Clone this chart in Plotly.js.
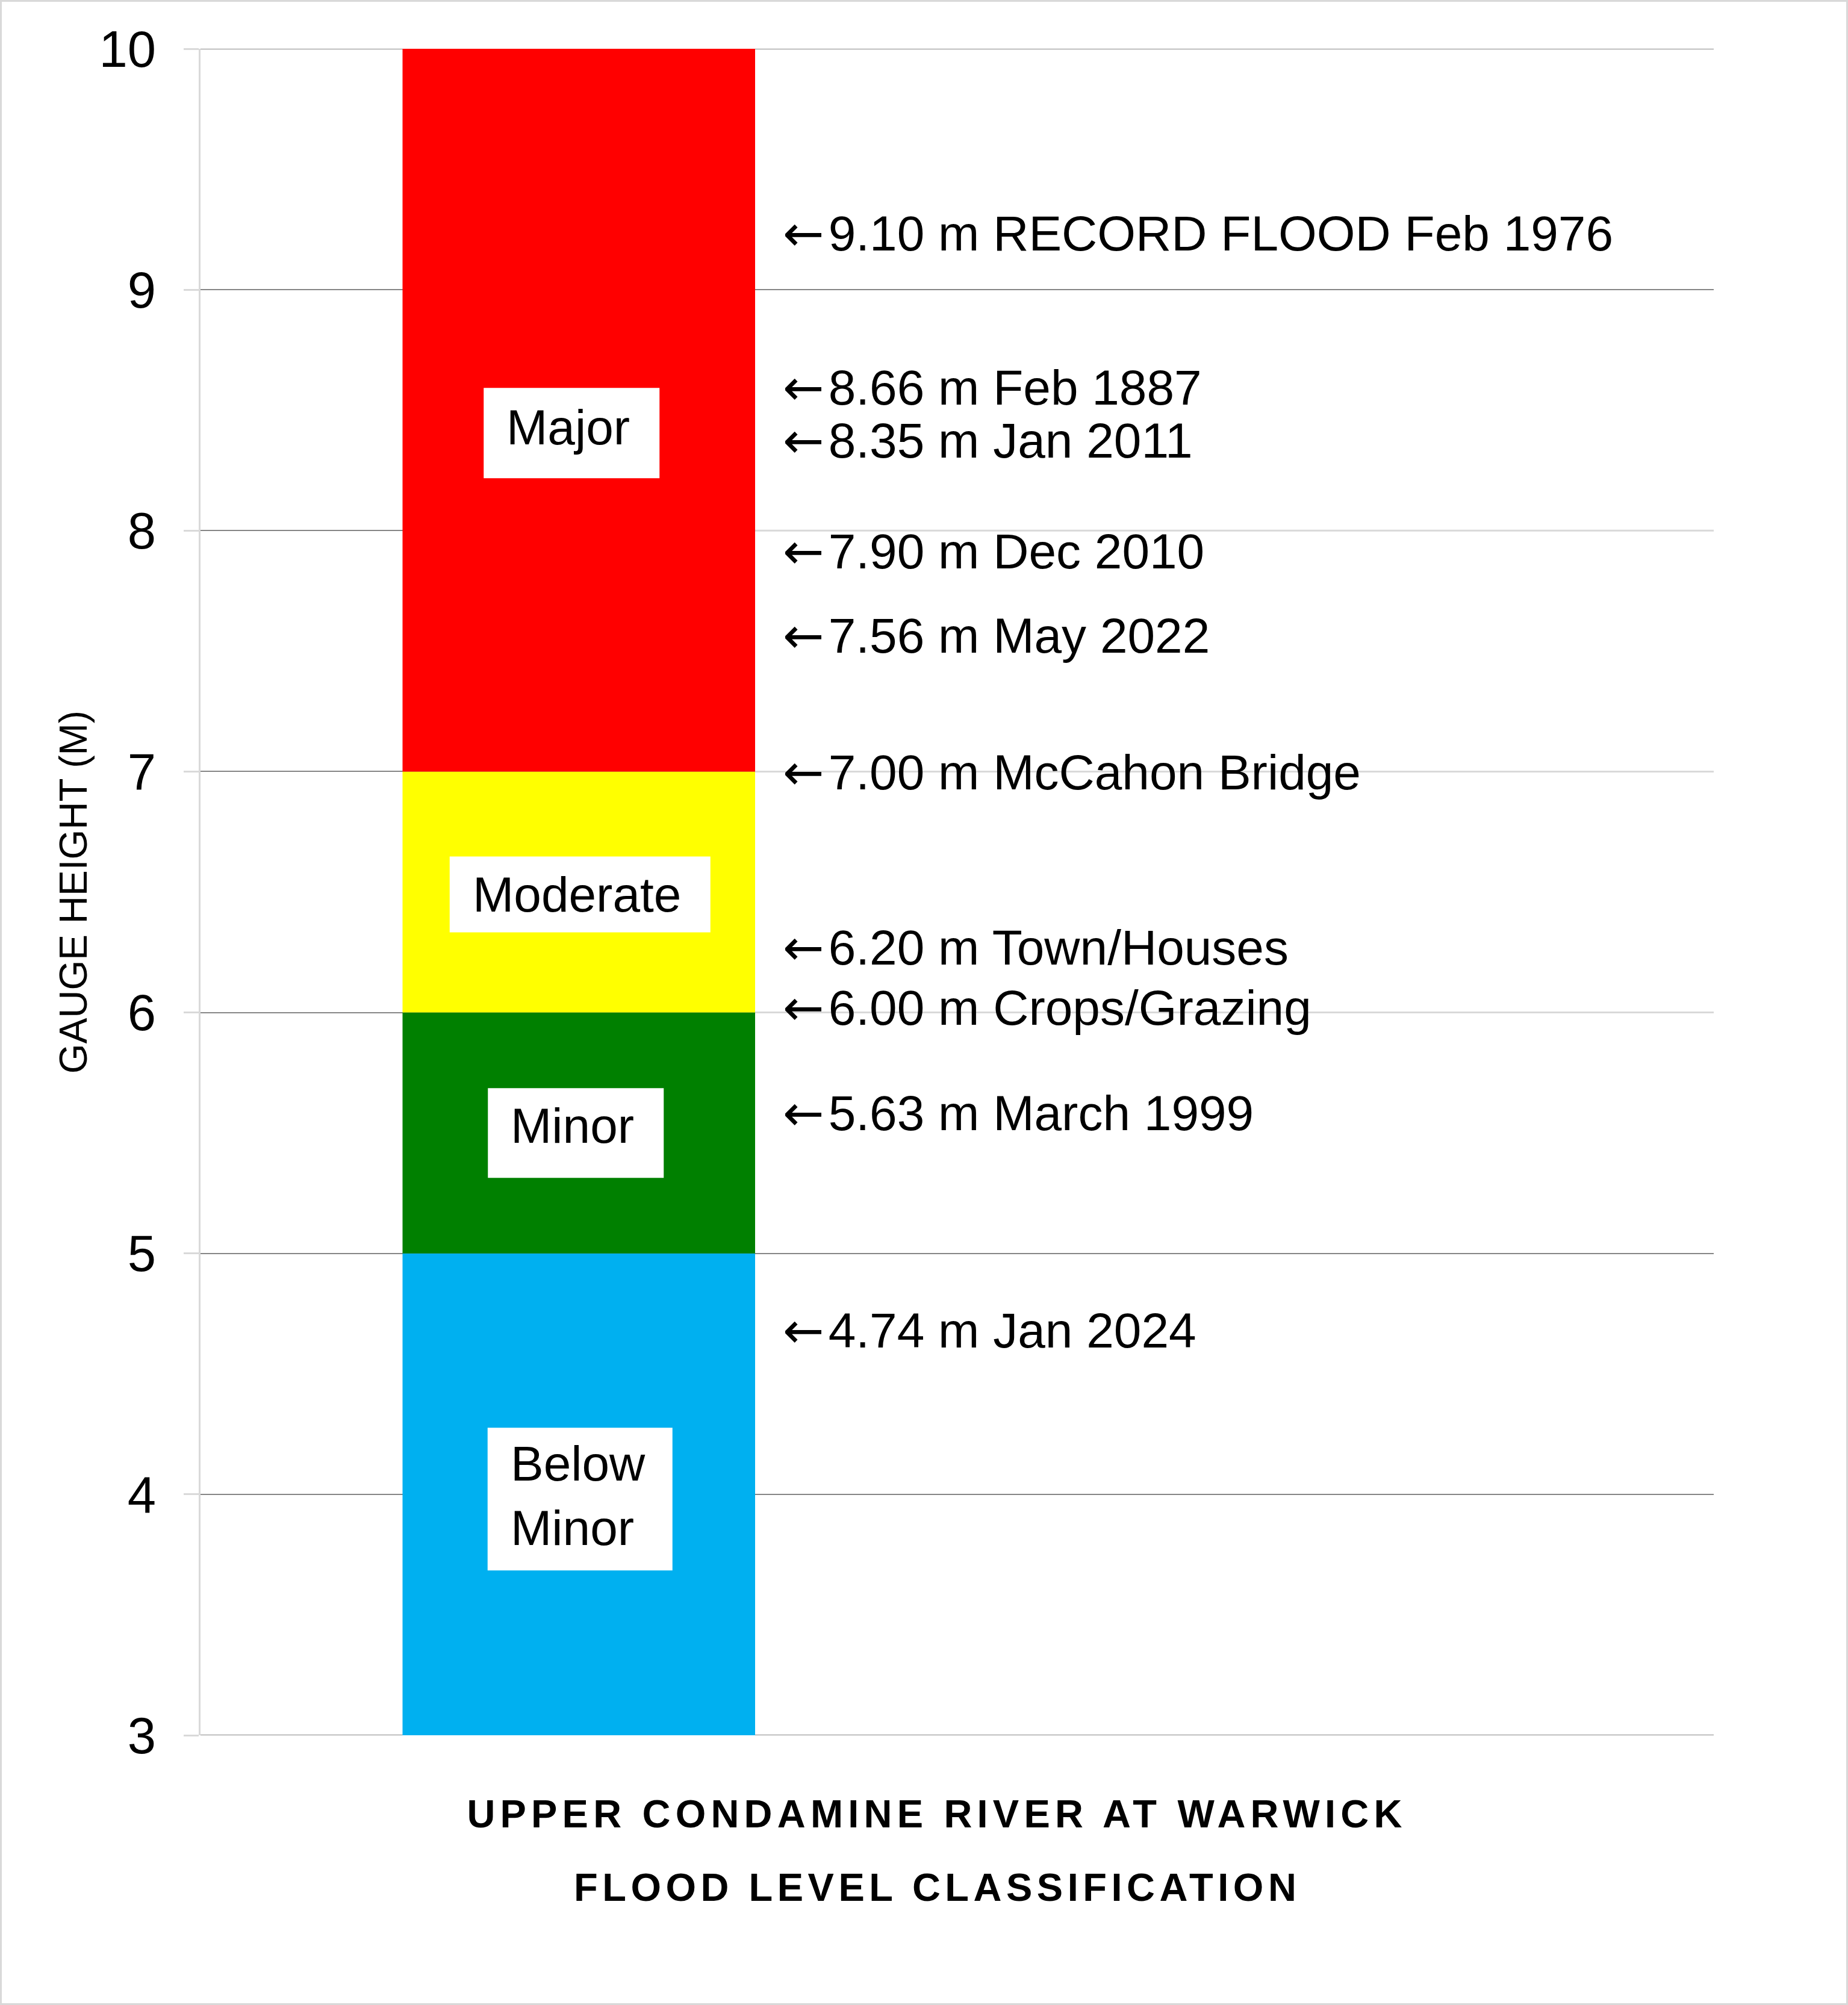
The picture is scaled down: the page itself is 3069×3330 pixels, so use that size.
<!DOCTYPE html>
<html>
<head>
<meta charset="utf-8">
<script src="https://cdn.plot.ly/plotly-3.0.1.min.js"></script>
<style>
  body { margin: 0; background: #fff; }
  #chart { width: 3069px; height: 3330px; }
  #frame { position: absolute; left: 0; top: 0; width: 3069px; height: 3330px;
           box-sizing: border-box; border: 3px solid #d9d9d9; pointer-events: none; }
</style>
</head>
<body>
<div id="chart"></div>
<div id="frame"></div>
<script>
// flood classes, bottom to top
var classNames = ["Below<br>Minor", "Minor", "Moderate", "Major"];
var classBounds = [3, 5, 6, 7, 10];
var classColors = ["#00B0F0", "#008000", "#FFFF00", "#FF0000"];

// recorded heights / reference levels (m) and what they are
var eventHeights = [9.10, 8.66, 8.35, 7.90, 7.56, 7.00, 6.20, 6.00, 5.63, 4.74];
var eventNames = ["RECORD FLOOD Feb 1976", "Feb 1887", "Jan 2011", "Dec 2010", "May 2022",
                  "McCahon Bridge", "Town/Houses", "Crops/Grazing", "March 1999", "Jan 2024"];

var yTicks = [3, 4, 5, 6, 7, 8, 9, 10];

// layout tweaks (pixels) - hand placement as in the original sheet
var eventNudge = [52, -28, 8, 4, 0, -3, 26, 6, -21, -26];
var boxW = [307, 292, 433, 292];
var boxH = [237, 149, 126, 150];
var boxDX = [2, -5, 2, -12];
var boxDY = [-8, 0, -4, -38];
var textDY = [0, 6, -6, 4];
var lightGrid = [6, 7, 8];

var FONT = "Liberation Sans, Arial, sans-serif";
var ARROW = '<span style="font-family:\'DejaVu Sans\';letter-spacing:7px">\u2190</span>';
var barWidth = 0.466;

var traces = [];
for (let i = 0; i < classColors.length; i++) {
    traces.push({
        type: "bar",
        x: [0],
        base: [classBounds[i]],
        y: [classBounds[i + 1] - classBounds[i]],
        width: [barWidth],
        marker: {color: classColors[i], line: {width: 0}},
        name: classNames[i].replace("<br>", " "),
        hoverinfo: "skip",
        showlegend: false
    });
}

var shapes = [];
var annotations = [];

// plotly leaves out the grid lines on the range ends
[yTicks[0], yTicks[yTicks.length - 1]].forEach(function (lv) {
    shapes.push({type: "line", layer: "between", xref: "paper", yref: "y",
        x0: 0, x1: 1, y0: lv, y1: lv,
        line: {color: "#868686", width: 2}});
});

lightGrid.forEach(function (lv) {
    shapes.push({type: "line", layer: "between", xref: "x", yref: "y",
        x0: barWidth / 2, x1: 1.5, y0: lv, y1: lv,
        line: {color: "#d9d9d9", width: 3}});
});

for (let i = 0; i < classNames.length; i++) {
    let mid = (classBounds[i] + classBounds[i + 1]) / 2;
    shapes.push({type: "rect", layer: "above", xref: "x", yref: "y",
        xsizemode: "pixel", ysizemode: "pixel", xanchor: 0, yanchor: mid,
        x0: -boxW[i] / 2 + boxDX[i], x1: boxW[i] / 2 + boxDX[i],
        y0: -boxH[i] / 2 + boxDY[i], y1: boxH[i] / 2 + boxDY[i],
        fillcolor: "#ffffff", line: {width: 0}});
    annotations.push({xref: "x", yref: "y", x: 0, y: mid,
        xanchor: "left", yanchor: "middle", align: "left",
        xshift: -boxW[i] / 2 + boxDX[i] + 36, yshift: boxDY[i] + 6 + textDY[i],
        text: classNames[i], showarrow: false,
        font: {family: FONT, size: 82, color: "#000"}});
}

for (let i = 0; i < eventHeights.length; i++) {
    annotations.push({xref: "paper", yref: "y", x: 0.384, y: eventHeights[i],
        xanchor: "left", yanchor: "middle",
        yshift: eventNudge[i] + 2,
        text: ARROW + eventHeights[i].toFixed(2) + " m " + eventNames[i],
        showarrow: false,
        font: {family: FONT, size: 82, color: "#000"}});
}

annotations.push({xref: "paper", yref: "paper", x: 0.4867, y: -0.09,
    xanchor: "center", yanchor: "middle",
    text: '<span style="letter-spacing:7.5px">FLOOD LEVEL CLASSIFICATION</span>',
    showarrow: false,
    font: {family: FONT, size: 65, color: "#000", weight: 700}});

var layout = {
    width: 3069,
    height: 3330,
    margin: {t: 81, b: 448, l: 333, r: 223},
    paper_bgcolor: "#ffffff",
    plot_bgcolor: "#ffffff",
    barmode: "overlay",
    showlegend: false,
    title: {
        text: '<span style="letter-spacing:8.2px">UPPER CONDAMINE RIVER AT WARWICK</span>',
        font: {family: FONT, size: 65, color: "#000", weight: 700},
        xref: "container", yref: "container",
        x: 1556 / 3069, xanchor: "center",
        y: 1 - 3012 / 3330, yanchor: "middle"
    },
    xaxis: {
        range: [-0.5, 1.5], showticklabels: false, showgrid: false,
        zeroline: false, showline: false, ticks: "", fixedrange: true
    },
    yaxis: {
        range: [3, 10], tickvals: yTicks, ticktext: yTicks.map(String),
        tickfont: {family: FONT, size: 85, color: "#000"},
        ticks: "outside", ticklen: 25, tickwidth: 3, tickcolor: "#d9d9d9",
        ticklabelstandoff: 29,
        showline: true, linecolor: "#d9d9d9", linewidth: 3,
        showgrid: true, gridcolor: "#868686", gridwidth: 2,
        zeroline: false, fixedrange: true,
        title: {text: "GAUGE HEIGHT (M)", standoff: 0,
                font: {family: FONT, size: 64, color: "#000"}}
    },
    shapes: shapes,
    annotations: annotations
};

Plotly.newPlot("chart", traces, layout, {displayModeBar: false, staticPlot: true});
</script>
</body>
</html>
